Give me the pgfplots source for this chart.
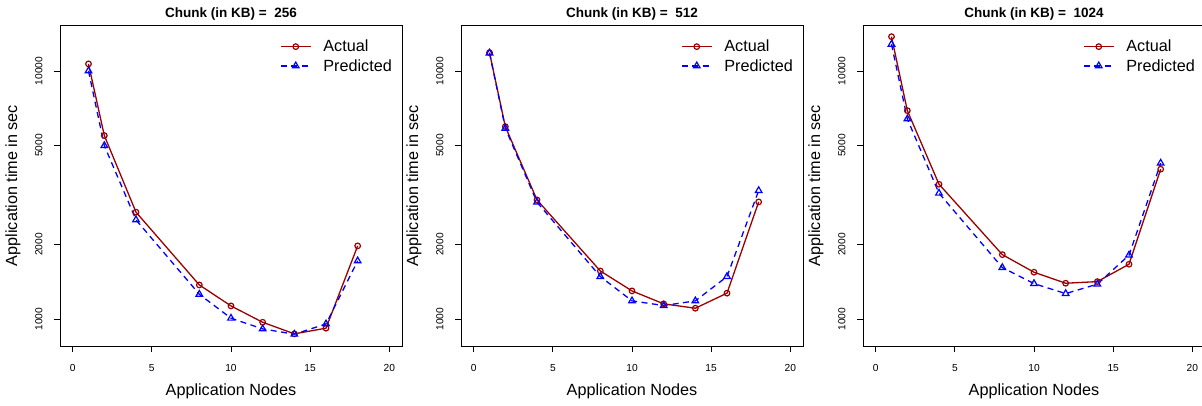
\documentclass[border=0pt]{standalone}
\usepackage{fontspec}
\setmainfont{Liberation Sans}
\usepackage{pgfplots}
\pgfplotsset{compat=1.18}
\definecolor{actualred}{HTML}{9A0000}
\definecolor{predblue}{HTML}{0000FF}
\pgfplotsset{
  actual/.style={actualred, line width=1.3pt, mark=o, mark size=2.8pt, mark options={solid, line width=1.2pt}},
  pred/.style={predblue, line width=1.3pt, dash pattern=on 6pt off 4.5pt, mark=triangle, mark size=3.8pt, mark options={solid, line width=1.2pt}},
}
\begin{document}
\begin{tikzpicture}
\pgfplotsset{
  every axis/.append style={
    width=342pt, height=321pt, scale only axis,
    anchor=south west,
    xmin=-0.8, xmax=20.8, ymin=780, ymax=15310,
    xtick={0,5,10,15,20}, xticklabels={0,5,10,15,20},
    ytick={1000,2000,5000,10000}, yticklabels={1000,2000,5000,10000},
    yminorticks=false, xminorticks=false,
    tick align=outside, xtick pos=left, ytick pos=left,
    major tick length=6pt,
    tick style={black, line width=0.8pt},
    axis line style={line width=0.9pt, black},
    ticklabel style={font=\fontsize{10.2}{12}\selectfont},
    xticklabel style={yshift=-9pt},
    yticklabel style={xshift=-8pt, rotate=90, anchor=south},
    label style={font=\fontsize{16.2}{18}\selectfont},
    xlabel={Application Nodes},
    ylabel={Application time in sec},
    legend style={draw=none, fill=none, at={(rel axis cs:0.643,0.96)}, anchor=north west,
      font=\fontsize{16.2}{18}\selectfont, row sep=2pt, inner sep=0pt,
      /tikz/every odd column/.append style={column sep=10pt}},
    legend cell align=left,
  },
  every axis x label/.style={at={(rel axis cs:0.5,0)}, yshift=-45.7pt, anchor=center},
  every axis y label/.style={at={(rel axis cs:0,0.5)}, xshift=-47pt, rotate=90, anchor=center},
  every axis title/.style={at={(rel axis cs:0.5,1)}, yshift=10.5pt, anchor=center, font=\fontsize{13.5}{15}\selectfont\bfseries},
  legend image code/.code={\draw[mark repeat=2,mark phase=2] plot coordinates {(0pt,0pt) (15pt,0pt) (30pt,0pt)};},
}
\useasboundingbox (0,0) rectangle (1202pt,405pt);
\begin{semilogyaxis}[at={(60pt,59pt)}, title={Chunk (in KB) =\ \ 256}]
\addplot[actual] coordinates {(1,10670) (2,5490) (4,2698) (8,1374) (10,1131) (12,972) (14,873) (16,920) (18,1974)};
\addlegendentry{Actual}
\addplot[pred] coordinates {(1,10000) (2,5000) (4,2512) (8,1260) (10,1009) (12,914) (14,870) (16,957) (18,1717)};
\addlegendentry{Predicted}
\end{semilogyaxis}
\begin{semilogyaxis}[at={(461pt,59pt)}, title={Chunk (in KB) =\ \ 512}]
\addplot[actual] coordinates {(1,11852) (2,5965) (4,3022) (8,1564) (10,1300) (12,1153) (14,1107) (16,1273) (18,2967)};
\addlegendentry{Actual}
\addplot[pred] coordinates {(1,11800) (2,5875) (4,2960) (8,1485) (10,1185) (12,1135) (14,1185) (16,1485) (18,3296)};
\addlegendentry{Predicted}
\end{semilogyaxis}
\begin{semilogyaxis}[at={(863pt,59pt)}, title={Chunk (in KB) =\ \ 1024}]
\addplot[actual] coordinates {(1,13740) (2,6918) (4,3496) (8,1820) (10,1546) (12,1396) (14,1417) (16,1665) (18,4020)};
\addlegendentry{Actual}
\addplot[pred] coordinates {(1,12804) (2,6406) (4,3217) (8,1614) (10,1391) (12,1268) (14,1384) (16,1811) (18,4250)};
\addlegendentry{Predicted}
\end{semilogyaxis}
\end{tikzpicture}
\end{document}
